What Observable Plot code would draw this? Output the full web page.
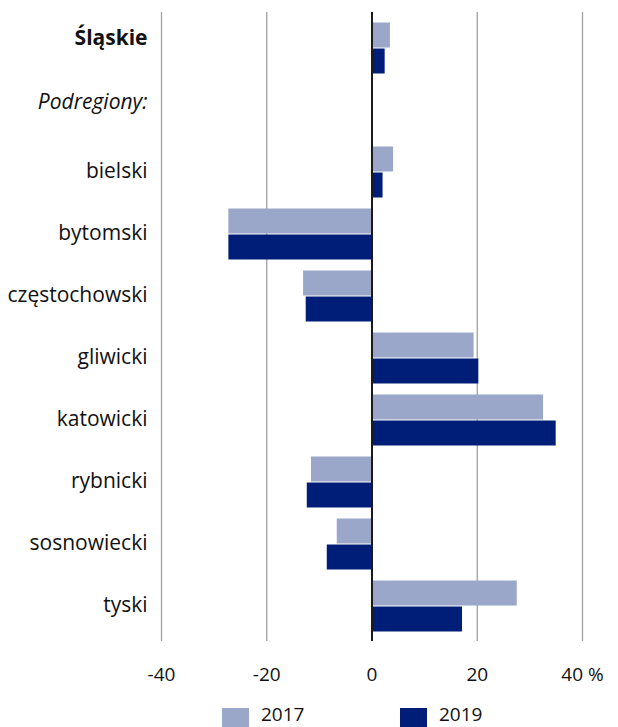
<!DOCTYPE html>
<html>
<head>
<meta charset="utf-8">
<script src="https://cdn.jsdelivr.net/npm/d3@7"></script>
<script src="https://cdn.jsdelivr.net/npm/@observablehq/plot@0.6"></script>
<style>
  html, body { margin: 0; padding: 0; background: #fff; }
  body { width: 618px; height: 727px; overflow: hidden; font-family: "Open Sans", sans-serif; }
  #legend { position: relative; height: 37px; font-size: 19px; color: #111; }
  .sw { position: absolute; top: 18px; width: 27px; height: 19px; }
  .lt { position: absolute; top: 11px; }
</style>
</head>
<body>
<div id="chart"></div>
<div id="legend"></div>
<script>
const regions = ["Śląskie", "Podregiony:", "bielski", "bytomski", "częstochowski", "gliwicki", "katowicki", "rybnicki", "sosnowiecki", "tyski"];
const years = ["2017", "2019"];
const values2017 = [3.5, null, 4.1, -27.2, -13.0, 19.4, 32.6, -11.5, -6.6, 27.6];
const values2019 = [2.5, null, 2.1, -27.2, -12.5, 20.3, 35.0, -12.3, -8.5, 17.2];
const xTicks = [-40, -20, 0, 20, 40];
const colors = ["#9aa7c9", "#001e77"];

const data = [];
regions.forEach((r, i) => {
  if (values2017[i] != null) data.push({region: r, year: years[0], value: values2017[i]});
  if (values2019[i] != null) data.push({region: r, year: years[1], value: values2019[i]});
});

const chart = Plot.plot({
  width: 618,
  height: 690,
  marginLeft: 161,
  marginRight: 36,
  marginTop: 12,
  marginBottom: 49,
  style: {fontFamily: "'Open Sans', sans-serif", fontSize: "19px", color: "#111"},
  x: {domain: [-40, 40], ticks: xTicks, tickFormat: d => d === 40 ? "40 %" : String(d).replace("−", "-"), tickSize: 0, tickPadding: 26, label: null},
  y: {domain: regions, padding: 0, tickSize: 0, tickPadding: 14, label: null},
  color: {domain: years, range: colors},
  marks: [
    Plot.gridX(xTicks, {stroke: "#a0a0a0", strokeOpacity: 1, strokeWidth: 1.3}),
    Plot.barX(data.filter(d => d.year === years[0]), {x: "value", y: "region", fill: "year", insetTop: 5.5, insetBottom: 31.5}),
    Plot.barX(data.filter(d => d.year === years[1]), {x: "value", y: "region", fill: "year", insetTop: 31.5, insetBottom: 5.5}),
    Plot.ruleX([0], {stroke: "#1a1a1a", strokeWidth: 2})
  ]
});

d3.select(chart).selectAll("[aria-label='y-axis tick label'] text").each(function() {
  const sel = d3.select(this);
  const t = sel.text();
  sel.attr("font-size", "21px").attr("dy", "-1.7px");
  if (t === "Śląskie") sel.attr("font-weight", "bold").attr("dy", "-10px");
  if (t === "Podregiony:") sel.attr("font-style", "italic").attr("dy", "-8.5px");
});

document.getElementById("chart").appendChild(chart);

const legend = document.getElementById("legend");
const swX = [222, 400];
years.forEach((y, i) => {
  const s = document.createElement("div");
  s.className = "sw";
  s.style.left = swX[i] + "px";
  s.style.background = colors[i];
  legend.appendChild(s);
  const t = document.createElement("div");
  t.className = "lt";
  t.style.left = (swX[i] + 39) + "px";
  t.textContent = y;
  legend.appendChild(t);
});
</script>
</body>
</html>
